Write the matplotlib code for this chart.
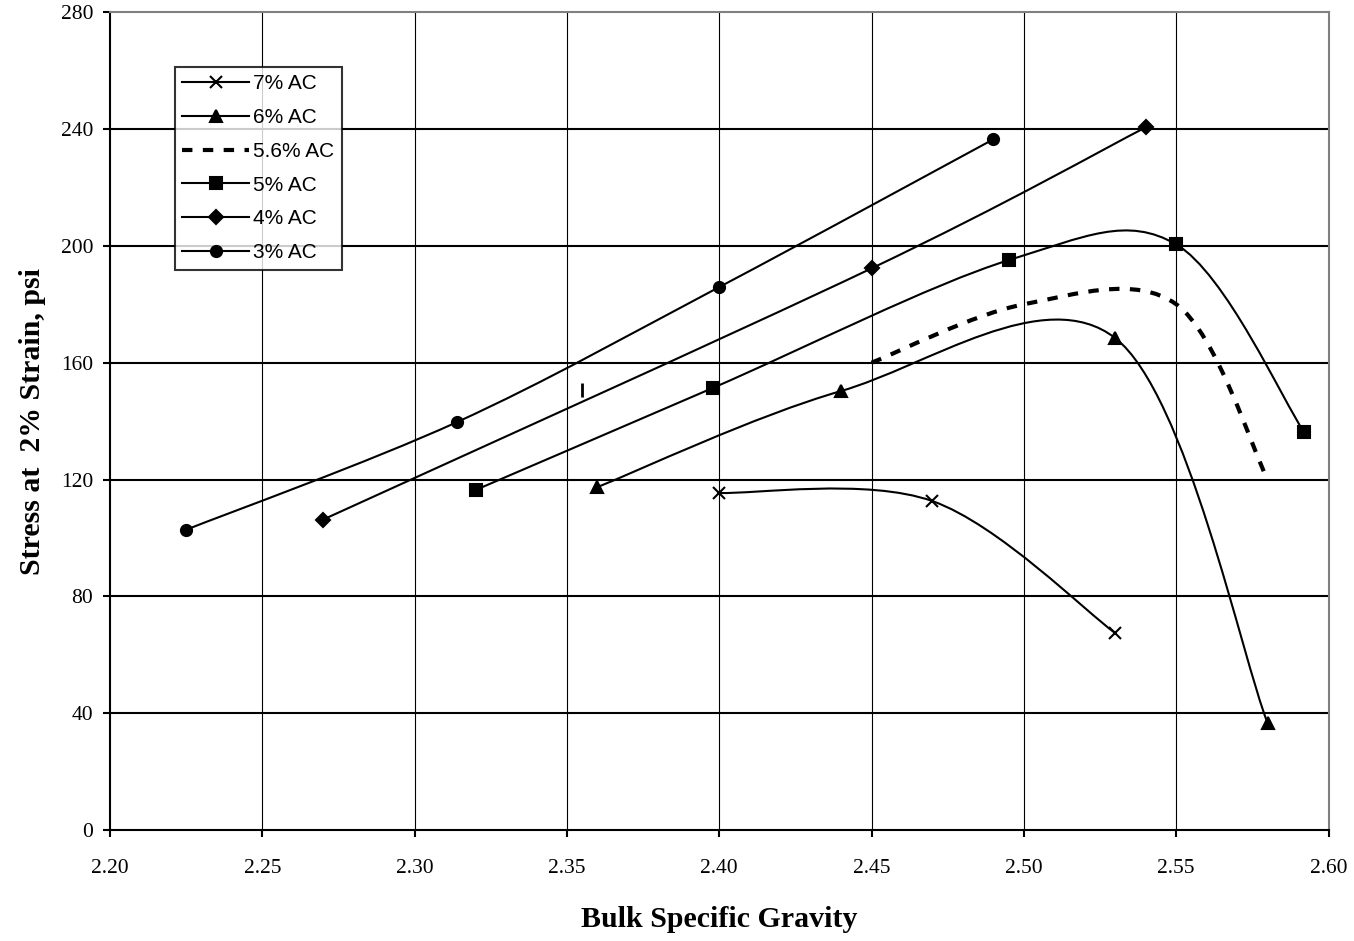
import numpy as np
import matplotlib.pyplot as plt
from matplotlib.path import Path
from matplotlib.patches import PathPatch
from matplotlib.lines import Line2D

# data
ac7_x = [2.40, 2.47, 2.53]
ac7_y = [115.4, 112.6, 67.4]
ac6_x = [2.36, 2.44, 2.53, 2.58]
ac6_y = [117.4, 150.3, 168.4, 36.6]
ac56_x = [2.45, 2.50, 2.55, 2.58]
ac56_y = [160, 180, 180, 120]
ac5_x = [2.32, 2.398, 2.495, 2.55, 2.592]
ac5_y = [116.4, 151.4, 195.1, 200.5, 136.2]
ac4_x = [2.27, 2.45, 2.54]
ac4_y = [106.3, 192.3, 240.6]
ac3_x = [2.225, 2.314, 2.40, 2.49]
ac3_y = [102.8, 139.7, 185.9, 236.5]
mark_x = [2.355]
mark_y = [150.5]

xticks = [2.20, 2.25, 2.30, 2.35, 2.40, 2.45, 2.50, 2.55, 2.60]
yticks = [0, 40, 80, 120, 160, 200, 240, 280]


def smooth_path(xs, ys):
    # Excel style smoothed line: bezier segments through the points
    p = np.column_stack([xs, ys]).astype(float)
    n = len(p)
    verts = [p[0]]
    codes = [Path.MOVETO]
    for i in range(n - 1):
        p0 = p[max(i - 1, 0)]
        p1 = p[i]
        p2 = p[i + 1]
        p3 = p[min(i + 2, n - 1)]
        verts += [p1 + (p2 - p0) / 6, p2 - (p3 - p1) / 6, p2]
        codes += [Path.CURVE4] * 3
    return Path(verts, codes)


fig = plt.figure(figsize=(13.54, 9.41), dpi=100)
ax = fig.add_axes([0.0812, 0.118, 0.9, 0.869])

ax.set_xlim(2.20, 2.60)
ax.set_ylim(0, 280)
ax.set_xticks(xticks)
ax.set_yticks(yticks)
ax.set_xticklabels([f'{v:.2f}' for v in xticks])

for v in xticks[1:-1]:
    ax.axvline(v, color='black', lw=0.8, zorder=1)
for v in yticks[1:-1]:
    ax.axhline(v, color='black', lw=1.5, zorder=1)

series = [
    (ac7_x, ac7_y, '7% AC', 'x', 9, '-'),
    (ac6_x, ac6_y, '6% AC', '^', 9, '-'),
    (ac56_x, ac56_y, '5.6% AC', None, 0, 'dash'),
    (ac5_x, ac5_y, '5% AC', 's', 9, '-'),
    (ac4_x, ac4_y, '4% AC', 'D', 7, '-'),
    (ac3_x, ac3_y, '3% AC', 'o', 8, '-'),
]

handles = []
for xs, ys, lab, mk, ms, ls in series:
    if ls == 'dash':
        patch = PathPatch(smooth_path(xs, ys), fill=False, edgecolor='black',
                          lw=3, linestyle=(0, (2.5, 2.5)), zorder=3)
        ax.add_patch(patch)
        handles.append(Line2D([], [], color='black', lw=3,
                              linestyle=(0, (2.5, 2.5)), label=lab))
    else:
        patch = PathPatch(smooth_path(xs, ys), fill=False, edgecolor='black',
                          lw=1.5, zorder=3)
        ax.add_patch(patch)
        ax.plot(xs, ys, linestyle='none', marker=mk, ms=ms, color='black',
                mew=1.5, zorder=4)
        handles.append(Line2D([], [], color='black', lw=1.5, marker=mk, ms=ms,
                              mew=1.5, label=lab))

ax.plot(mark_x, mark_y, linestyle='none', marker='|', ms=10, mew=2,
        color='black', zorder=4)

leg = ax.legend(handles=handles, loc='upper left', bbox_to_anchor=(0.0535, 0.933),
                prop={'family': 'Liberation Sans', 'size': 15}, frameon=True,
                fancybox=False, edgecolor='black', handlelength=3.2,
                handletextpad=0.2, labelspacing=0.71, borderpad=0.35,
                borderaxespad=0)
leg.get_frame().set_linewidth(1.5)

for s in ['top', 'right']:
    ax.spines[s].set_color('#808080')
    ax.spines[s].set_linewidth(1.5)
for s in ['left', 'bottom']:
    ax.spines[s].set_color('black')
    ax.spines[s].set_linewidth(1.5)

ax.tick_params(axis='both', direction='out', length=5, width=1.5,
               labelsize=15.5, top=False, right=False)
ax.tick_params(axis='x', pad=16)
ax.tick_params(axis='y', pad=7)
for t in ax.get_xticklabels() + ax.get_yticklabels():
    t.set_fontfamily('Liberation Serif')

ax.set_xlabel('Bulk Specific Gravity', fontfamily='Liberation Serif',
              fontweight='bold', fontsize=21.5, labelpad=20)
ax.set_ylabel('Stress at  2% Strain, psi', fontfamily='Liberation Serif',
              fontweight='bold', fontsize=21.5, labelpad=11)

fig.savefig('out.png', dpi=100)
